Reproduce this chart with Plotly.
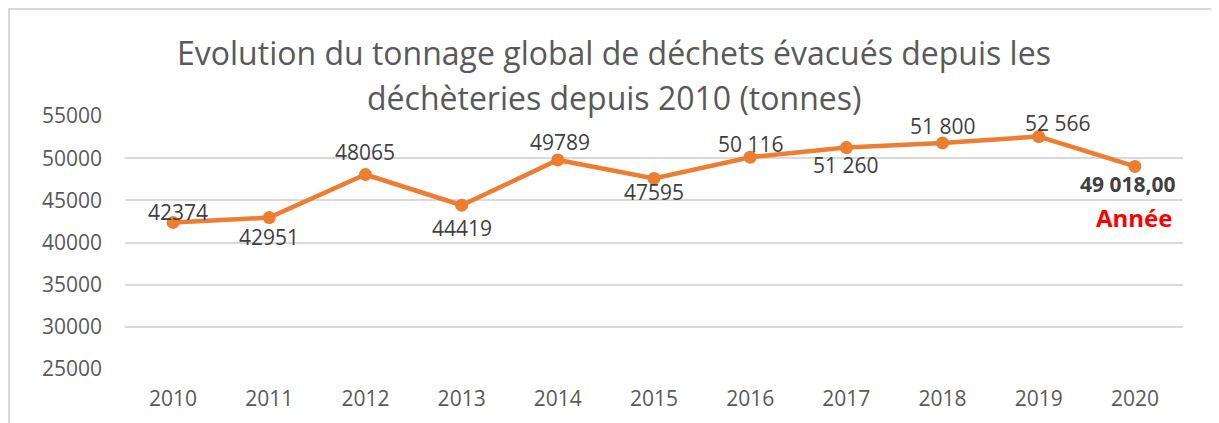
import plotly.graph_objects as go

years = ["2010", "2011", "2012", "2013", "2014", "2015", "2016", "2017", "2018", "2019", "2020"]
tonnage = [42374, 42951, 48065, 44419, 49789, 47595, 50116, 51260, 51800, 52566, 49018]
value_labels = ["42374", "42951", "48065", "44419", "49789", "47595", "50 116", "51 260", "51 800", "52 566", "49 018,00"]
y_ticks = [25000, 30000, 35000, 40000, 45000, 50000, 55000]
title_lines = ["Evolution du tonnage global de déchets évacués depuis les",
               "déchèteries depuis 2010 (tonnes)"]
extra_label = "Année"

# label placement offsets (pixels): (xshift, yshift)
label_offsets = [(5, 10), (0, -19), (0, 22), (0, -23), (2, 18), (0, -14),
                 (1, 13), (0, -17), (0, 17), (19, 14), (-7, -18)]

FONT = "Open Sans"
ORANGE = "#ED7D31"

# the page places the figure 8px from the top-left corner
W, H = 1211, 415
L, R, T, B = 117, 36, 108, 54
pw, ph = W - L - R, H - T - B

fig = go.Figure()
fig.add_trace(go.Scatter(
    x=years, y=tonnage, mode="lines+markers",
    line=dict(color=ORANGE, width=4.5),
    marker=dict(color=ORANGE, size=13),
    hoverinfo="x+y", showlegend=False,
))

annotations = []
for i, (v, lab) in enumerate(zip(tonnage, value_labels)):
    dx, dy = label_offsets[i]
    bold = i == len(years) - 1
    annotations.append(dict(
        x=i, y=v, xref="x", yref="y", text=lab, showarrow=False,
        xshift=dx, yshift=dy, xanchor="center", yanchor="middle",
        font=dict(family=FONT, size=21, color="#404040",
                  weight="bold" if bold else "normal"),
    ))
annotations.append(dict(
    x=len(years) - 1, y=tonnage[-1], xref="x", yref="y", text=extra_label, showarrow=False,
    xshift=-1, yshift=-51, xanchor="center", yanchor="middle",
    font=dict(family=FONT, size=24, color="#FF0000", weight="bold"),
))
for txt, ypx in zip(title_lines, [44, 89]):
    annotations.append(dict(
        x=(606 - L) / pw, y=1 - (ypx - T) / ph, xref="paper", yref="paper", text=txt,
        showarrow=False, xanchor="center", yanchor="middle",
        font=dict(family=FONT, size=32, color="#595959"),
    ))

fig.update_layout(
    width=W, height=H,
    margin=dict(l=L, r=R, t=T, b=B),
    paper_bgcolor="white", plot_bgcolor="white",
    font=dict(family=FONT, size=21, color="#595959"),
    annotations=annotations,
    shapes=[
        dict(type="line", xref="paper", yref="paper",
             x0=(1 - L) / pw, x1=(1 - L) / pw, y0=1 + (T - 0) / ph, y1=-(B + 5) / ph,
             line=dict(color="#D9D9D9", width=2)),
        dict(type="line", xref="paper", yref="paper",
             x0=(0 - L) / pw, x1=(W + 5 - L) / pw, y0=1 + (T - 1) / ph, y1=1 + (T - 1) / ph,
             line=dict(color="#D9D9D9", width=2)),
    ],
    xaxis=dict(
        type="category", range=[-0.5, 10.5], showgrid=False, showline=False,
        zeroline=False, ticks="", ticklabelstandoff=15,
        tickfont=dict(family=FONT, size=21, color="#595959"),
    ),
    yaxis=dict(
        range=[25000, 55000], tickvals=y_ticks, ticktext=[str(t) for t in y_ticks],
        showgrid=True, gridcolor="#D9D9D9", gridwidth=1.5, zeroline=False,
        showline=False, ticks="", ticklabelstandoff=22,
        tickfont=dict(family=FONT, size=21, color="#595959"),
    ),
)

fig.write_html("out.html")
